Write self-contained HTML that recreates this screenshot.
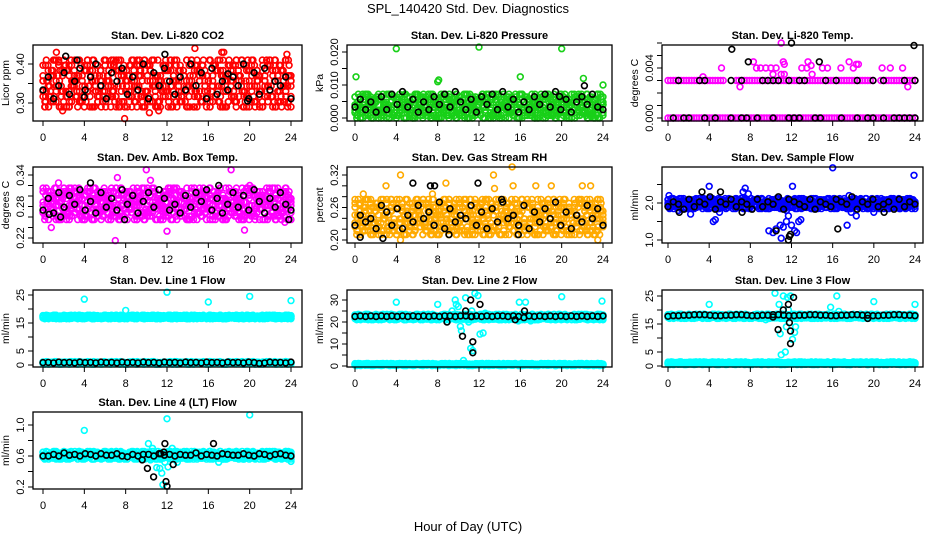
<!DOCTYPE html>
<html><head><meta charset="utf-8">
<style>
html,body{margin:0;padding:0;background:#fff;}
svg{display:block;font-family:"Liberation Sans",sans-serif;}
</style></head>
<body>
<svg id="chart" width="936" height="540" viewBox="0 0 936 540" xmlns="http://www.w3.org/2000/svg">
<rect x="0" y="0" width="936" height="540" fill="#fff"/>
<text x="468" y="13" text-anchor="middle" font-size="13">SPL_140420  Std. Dev. Diagnostics</text>
<text x="468" y="531" text-anchor="middle" font-size="13">Hour of Day (UTC)</text>
</svg>
<script>
// ---- data (digit strings: each digit d maps to lo + d*(hi-lo)/9, evenly spaced over 0..24 h; '-' = gap) ----
const hourTicks = [0,4,8,12,16,20,24];

const extraA = "8150362947718204593612073859426013578249601735829406712385940615273840952716305948271630594827163059482176305948217630594821763059482";
const extraB = "29471063852917406358291470635829174063582917406358291740635829174063582917406";
const extraC = "5038271946503827194650382719465038271946503827194650382719465038271946503827194650382719465038271946503827194650382719465038271946503827194650382719465";

const co2Dense = ["527163849205731648295173064829517306482957130648295173604829517306842951730648259173064829517360",
                  "384615920738461529073846152907384651290738461529073841652907384615290738461592073846152907384615",
                  "615294837061529483706152948370615294873061529483706152498370615294837061529843706152948370615294"];
const co2Black = "361472583694175826391748526394718253649172835461";
const co2Out = [[1.3,0.43],[1.5,0.405],[7,0.405],[7.9,0.26],[10.3,0.275],[14.7,0.44],[17.3,0.43],[17.5,0.43],[23.6,0.425],[0.2,0.29],[1.9,0.28],[23.7,0.30],[11.2,0.28]];
const co2BlackOut = [[2.2,0.42],[11.8,0.425],[3.3,0.41],[19.8,0.305],[4,0.315],[17.9,0.375]];

const presDense = ["357291846035729184603572918460357291846035729184603572918460357291846035729184603572918460357291",
                   "814035726981403572698140357269814035726981403572698140357269814035726981403572698140357269814035",
                   "260948153726094815372609481537260948153726094815372609481537260948153726094815372609481537260948"];
const presBlack = "362517284936152748395261748293615274839261574832";
const presOut = [[0.1,0.0125],[4,0.021],[8,0.011],[8.1,0.0115],[12,0.0215],[16,0.0125],[20,0.021],[22.1,0.012],[24,0.010]];
const presBlackOut = [[22.2,0.0098],[19.8,0.0065]];

const tempLow = "000000000000000000000000000000000000000000000000000000000000000000000000000000000000000000000000";
const tempHigh = "3333333333333333333333----33333333333333333333333333333333333333333333333333333--33333333333333";
const tempOut = [[3.4,0.0033],[5.2,0.004],[7.0,0.0025],[8.3,0.0045],[8.6,0.004],[9,0.004],[9.5,0.004],[10,0.004],[10.5,0.004],[10.2,0.0035],[11,0.006],[11.2,0.0045],[11.3,0.0043],[11,0.0035],[11.3,0.0035],[13,0.004],[13.5,0.004],[13.6,0.0045],[13.9,0.0042],[14,0.0035],[15,0.004],[15.5,0.004],[16.8,0.004],[17.6,0.0045],[18,0.004],[18.3,0.0043],[18.5,0.0043],[20.8,0.004],[21.6,0.004],[22.8,0.004],[23.3,0.0025]];
const tempBlackLow = "-0-00--0-0--0-00-0--0--000--00---0--0-00-0-00000";
const tempBlackHigh = "--3---33----3-3---3333-3-33---3-3---3--3-3---3-3";
const tempBlackOut = [[6.2,0.0055],[7.8,0.0045],[12,0.006],[14.7,0.0045],[23.9,0.0058]];

const ambDense = ["472836159047283615904728361590472836159047283615904728361590472836159047283615904728361590472836",
                  "915360482791536048279153604827915360482791536048279153604827915360482791536048279153604827915360",
                  "238574019623857401962385740196238574019623857401962385740196238574019623857401962385740196238574"];
const ambBlack = "261837492518362947158396241738592614837295163842";
const ambOut = [[7,0.215],[7.2,0.335],[10,0.35],[10.4,0.33],[12,0.233],[18.2,0.35],[1.5,0.325],[0.8,0.24],[19.5,0.235],[20,0.32],[23.4,0.25]];
const ambBlackOut = [[4.6,0.325],[17,0.32],[0.6,0.265],[1.7,0.26],[7.9,0.255],[23.8,0.255]];

const rhDense = ["358162947035816294703581629470358162947035816294703581629470358162947035816294703581629470358162",
                 "716294038571629403857162940385716294038571629403857162940385716294038571629403857162940385716294",
                 "940573816294057381629405738162940573816294057381629405738162940573816294057381629405738162940573"];
const rhBlack = "253418627153846291735482617394528163749261538472";
const rhOut = [[0.4,0.265],[0.8,0.285],[3,0.3],[4.4,0.32],[4.4,0.2],[8.8,0.305],[13.4,0.32],[13.5,0.295],[15.2,0.335],[15.3,0.3],[17.5,0.3],[19,0.3],[22,0.3],[22.8,0.3],[23.5,0.2],[7.5,0.285],[11.2,0.275]];
const rhBlackOut = [[5.6,0.305],[7.3,0.3],[7.7,0.3],[11.9,0.305],[14.2,0.275],[0.5,0.205],[2.7,0.203],[9.1,0.21],[15.8,0.21]];

const flowDense = ["462835917046283591704628359170462835917046283591704628359170462835917046283591704628359170462835",
                   "819370462581937046258193704625819370462581937046258193704625819370462581937046258193704625819370"];
const flowBlack = "354263547254635426354726543625436547254634526354";
const flowOut = [[9.8,1.25],[10.2,1.2],[10.5,1.3],[10.9,1.4],[11,1.05],[11.2,1.35],[11.5,1.5],[11.7,1.65],[12,1.4],[12.3,1.25],[12.5,1.2],[12.7,1.5],[12.9,1.55],[12.1,2.45],[4,2.45],[4.4,1.5],[4.6,1.55],[5,1.75],[7.5,2.4],[7.3,2.3],[7.8,2.25],[16,2.95],[17.4,1.4],[17.6,2.2],[18.3,1.65],[23.9,2.75],[0.1,2.2],[2.2,1.7],[1,1.8],[20,1.75],[9.5,1.85],[11.5,1.8],[17.8,1.75]];
const flowBlackOut = [[10.5,1.25],[11.7,1.0],[11.8,1.1],[11.9,1.15],[16.5,1.3],[3.3,2.3],[5.1,2.3],[1.1,1.75],[7.2,1.75],[21,1.75]];

const l1DenseTop = ["463728159046372815904637281590463728159046372815904637281590463728159046372815904637281590463728",
                    "815390462781539046278153904627815390462781539046278153904627815390462781539046278153904627815390"];
const l1DenseBot = ["352417635241763524176352417635241763524176352417635241763524176352417635241763524176352417635241"];
const l1Black = "453645364536453645364536453645364536453641364536";
const l1Out = [[4,23.5],[8,19.5],[12,26],[16,22.5],[20,24.5],[24,23]];
const l1BlackOut = [];

const l2DenseTop = ["463728159046372815904637281590463728159046372815904637281590463728159046372815904637281590463728",
                    "815390462781539046278153904627815390462781539046278153904627815390462781539046278153904627815390"];
const l2DenseBot = ["352417635241763524176352417635241763524176352417635241763524176352417635241763524176352417635241"];
const l2Black = "454545454545454545545545454554542545454545454545";
const l2Out = [[4,29],[8,28],[9.4,25],[9.7,30],[9.8,28],[10,27],[10.2,18],[10.3,16],[10.5,2.5],[10.7,31],[11,20],[11.2,8],[11.4,7],[11.6,33],[11.9,32],[12.1,14.5],[12.4,15],[12.6,24],[11.3,25],[15.9,29],[16.5,29],[20,31.5],[23.9,29.5],[15.8,20.5],[17,20.5]];
const l2BlackOut = [[8.9,20],[10.4,13.5],[10.7,25],[11.2,30],[11.3,22.5],[11.4,11],[11.4,6],[12.1,28],[15.5,21],[16.4,25]];

const l3DenseTop = ["463728159046372815904637281590463728159046372815904637281590463728159046372815904637281590463728",
                    "815390462781539046278153904627815390462781539046278153904627815390462781539046278153904627815390"];
const l3DenseBot = ["352417635241763524176352417635241763524176352417635241763524176352417635241763524176352417635241"];
const l3Black = "344556665445566544556654455665544556655445566554";
const l3Out = [[4,22],[10.4,26],[10.8,22],[10.9,11.5],[11,4],[11.2,25],[11.4,5],[11.5,14],[11.6,24.5],[11.9,25],[12.1,9.5],[12.3,12],[12.4,14],[15.8,21],[16.4,25],[16.6,19.5],[20,23],[24,22],[9.5,16.5],[11.7,20]];
const l3BlackOut = [[10.7,13],[11.2,20],[11.7,22],[11.8,15.5],[11.9,12.5],[11.9,8],[12.2,24.5],[10.2,17.5],[19.4,17]];

const l4Dense = ["463728159046372815904637281590463728159046372815904637281590463728159046372815904637281590463728",
                 "815390462781539046278153904627815390462781539046278153904627815390462781539046278153904627815390"];
const l4Black = "335374536536446325355364535447354365446436535643";
const l4Out = [[4,0.93],[12,1.08],[20,1.13],[10.2,0.76],[10.6,0.7],[11,0.45],[11.3,0.44],[11.5,0.38],[11.6,0.23],[12.1,0.46],[11.8,0.52],[12.5,0.7],[10.4,0.55],[13,0.52],[17,0.52],[24,0.53]];
const l4BlackOut = [[10.1,0.44],[10.7,0.33],[11.8,0.76],[11.9,0.27],[12,0.21],[12.6,0.49],[16.5,0.76],[11.4,0.63],[11.7,0.65],[9.6,0.55]];

// ---- layout ----
const svg = document.getElementById('chart');
const NS = 'http://www.w3.org/2000/svg';
const cols = [{x0:43,x24:291,L:33,R:302},{x0:355,x24:603,L:347,R:612},{x0:668,x24:915,L:662,R:923}];
const rows = [{T:45,B:121},{T:167,B:243},{T:290,B:367},{T:412,B:489}];

function mk(tag, attrs, parent){
  const e = document.createElementNS(NS, tag);
  for (const k in attrs) e.setAttribute(k, attrs[k]);
  (parent||svg).appendChild(e);
  return e;
}
function decode(str, lo, hi){
  const out = []; const n = str.length;
  for (let i=0;i<n;i++){
    const c = str[i]; if (c === '-') continue;
    out.push([24*i/(n-1), lo + (+c)*(hi-lo)/9]);
  }
  return out;
}
const extras = [extraA, extraB, extraC];
const band = (arr, lo, hi) => arr.concat(extras).map(s=>[s,lo,hi]);

const panels = [
 {name:'co2', title:'Stan. Dev. Li-820 CO2', ylab:'Licor ppm', c:0, r:0, cal:[0.30,103,0.40,64], ticks:[0.30,0.35,0.40], labels:{'0.3':'0.30','0.4':'0.40'}, color:'#ff0000',
  dense:band(co2Dense,0.29,0.41), out:co2Out, black:[[co2Black,0.30,0.40]], bout:co2BlackOut},
 {name:'pressure', title:'Stan. Dev. Li-820 Pressure', ylab:'kPa', c:1, r:0, cal:[0,118,0.02,52], ticks:[0,0.005,0.01,0.015,0.02], labels:{'0':'0.000','0.01':'0.010','0.02':'0.020'}, color:'#18d018',
  dense:band(presDense,0,0.0072), out:presOut, black:[[presBlack,0.001,0.008]], bout:presBlackOut},
 {name:'temp', title:'Stan. Dev. Li-820 Temp.', ylab:'degrees C', c:2, r:0, cal:[0,118,0.004,68], ticks:[0,0.001,0.002,0.003,0.004,0.005,0.006], labels:{'0':'0.000','0.004':'0.004'}, color:'#ff00ff',
  dense:[[tempLow,0,0.009],[tempHigh,0,0.009]], out:tempOut, black:[[tempBlackLow,0,0.009],[tempBlackHigh,0,0.009]], bout:tempBlackOut},
 {name:'amb-box-temp', title:'Stan. Dev. Amb. Box Temp.', ylab:'degrees C', c:0, r:1, cal:[0.22,238,0.34,175], ticks:[0.22,0.24,0.26,0.28,0.30,0.32,0.34], labels:{'0.22':'0.22','0.28':'0.28','0.34':'0.34'}, color:'#ff00ff',
  dense:band(ambDense,0.255,0.315), out:ambOut, black:[[ambBlack,0.262,0.312]], bout:ambBlackOut},
 {name:'gas-stream-rh', title:'Stan. Dev. Gas Stream RH', ylab:'percent', c:1, r:1, cal:[0.20,240,0.32,175], ticks:[0.20,0.22,0.24,0.26,0.28,0.30,0.32], labels:{'0.2':'0.20','0.26':'0.26','0.32':'0.32'}, color:'#ffaa00',
  dense:band(rhDense,0.21,0.275), out:rhOut, black:[[rhBlack,0.215,0.27]], bout:rhBlackOut},
 {name:'sample-flow', title:'Stan. Dev. Sample Flow', ylab:'ml/min', c:2, r:1, cal:[1.0,240,2.0,203], ticks:[1.0,1.5,2.0,2.5], labels:{'1':'1.0','2':'2.0'}, color:'#0000ff',
  dense:band(flowDense,1.85,2.12), out:flowOut, black:[[flowBlack,1.7,2.3]], bout:flowBlackOut},
 {name:'line1-flow', title:'Stan. Dev. Line 1 Flow', ylab:'ml/min', c:0, r:2, cal:[0,365,25,295], ticks:[0,5,10,15,20,25], labels:{'0':'0','5':'5','15':'15','25':'25'}, color:'#00ffff',
  dense:band(l1DenseTop,16.5,17.8).concat(band(l1DenseBot,0.3,1.2)), out:l1Out, black:[[l1Black,0.5,1.3]], bout:l1BlackOut},
 {name:'line2-flow', title:'Stan. Dev. Line 2 Flow', ylab:'ml/min', c:1, r:2, cal:[0,366,30,300], ticks:[0,5,10,15,20,25,30], labels:{'0':'0','10':'10','20':'20','30':'30'}, color:'#00ffff',
  dense:band(l2DenseTop,21,23.5).concat(band(l2DenseBot,0.2,1.2)), out:l2Out, black:[[l2Black,21.5,23.8]], bout:l2BlackOut},
 {name:'line3-flow', title:'Stan. Dev. Line 3 Flow', ylab:'ml/min', c:2, r:2, cal:[0,366,25,296], ticks:[0,5,10,15,20,25], labels:{'0':'0','5':'5','15':'15','25':'25'}, color:'#00ffff',
  dense:band(l3DenseTop,17,18.5).concat(band(l3DenseBot,0.5,1.5)), out:l3Out, black:[[l3Black,17.2,18.9]], bout:l3BlackOut},
 {name:'line4-flow', title:'Stan. Dev. Line 4 (LT) Flow', ylab:'ml/min', c:0, r:3, cal:[0.2,487,1.0,425], ticks:[0.2,0.4,0.6,0.8,1.0], labels:{'0.2':'0.2','0.6':'0.6','1':'1.0'}, color:'#00ffff',
  dense:band(l4Dense,0.56,0.66), out:l4Out, black:[[l4Black,0.57,0.66]], bout:l4BlackOut}
];

panels.forEach(p=>{
  const col = cols[p.c], row = rows[p.r];
  const g = mk('g', {});
  
  
  const xs = h => col.x0 + (col.x24-col.x0)*h/24;
  const ys = v => p.cal[1] + (v-p.cal[0])*(p.cal[3]-p.cal[1])/(p.cal[2]-p.cal[0]);

  const t = mk('text', {x:(col.L+col.R)/2, y:row.T-6, 'text-anchor':'middle', 'font-size':11, 'font-weight':'bold'}, g);
  t.textContent = p.title;
  
  

  const pts = mk('g', {fill:'none', 'stroke-width':1.6}, g);
  
  
  const draw = (arr, color, nm) => arr.forEach(([h,v])=>{
    const c = mk('circle', {cx:xs(h).toFixed(1), cy:ys(v).toFixed(1), r:2.9, stroke:color}, pts);
    
    
  });
  p.dense.forEach(([s,lo,hi])=>draw(decode(s,lo,hi), p.color, 'point-colored'));
  draw(p.out, p.color, 'point-colored');
  p.black.forEach(([s,lo,hi])=>draw(decode(s,lo,hi), '#000', 'point-black'));
  draw(p.bout, '#000', 'point-black');

  const box = mk('rect', {x:col.L, y:row.T, width:col.R-col.L, height:row.B-row.T, fill:'none', stroke:'#000', 'stroke-width':1.3}, g);
  
  

  hourTicks.forEach(h=>{
    const x = xs(h);
    const tk = mk('line', {x1:x, x2:x, y1:row.B, y2:row.B+5, stroke:'#000', 'stroke-width':1}, g);
    
    
    const lb = mk('text', {x:x, y:row.B+20, 'text-anchor':'middle', 'font-size':11}, g);
    lb.textContent = h;
    
    
  });
  p.ticks.forEach(v=>{
    const y = ys(v);
    const tk = mk('line', {x1:col.L-5, x2:col.L, y1:y, y2:y, stroke:'#000', 'stroke-width':1}, g);
    
    
    const key = String(+v.toFixed(4));
    if (p.labels[key] !== undefined){
      const lx = col.L-9;
      const lb = mk('text', {x:lx, y:y, 'text-anchor':'middle', 'font-size':11, transform:`rotate(-90 ${lx} ${y})`}, g);
      lb.textContent = p.labels[key];
      
      
    }
  });
  const yx = col.L-24, yy = (row.T+row.B)/2;
  const yl = mk('text', {x:yx, y:yy, 'text-anchor':'middle', 'font-size':10.5, transform:`rotate(-90 ${yx} ${yy})`}, g);
  yl.textContent = p.ylab;
  
  
});
</script>
</body></html>
